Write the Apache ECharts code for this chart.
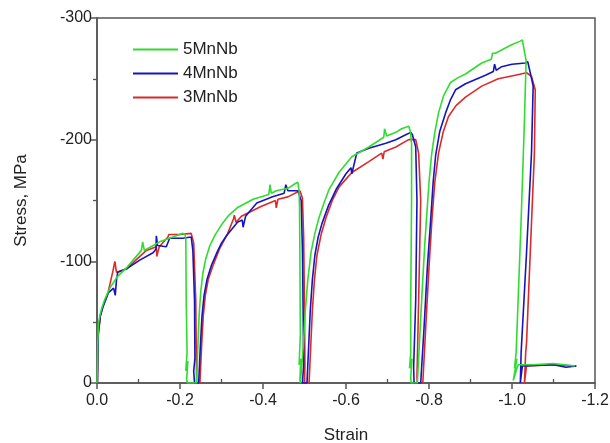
<!DOCTYPE html>
<html>
<head>
<meta charset="utf-8">
<script src="https://cdn.jsdelivr.net/npm/echarts@6/dist/echarts.min.js"></script>
<style>
  html, body { margin: 0; padding: 0; background: #fff; }
  #chart { width: 610px; height: 443px; }
</style>
</head>
<body>
<div id="chart"></div>
<script>
// strain / stress shown as positive values, axis labels add the minus sign
const seriesNames = ['5MnNb', '4MnNb', '3MnNb']
const seriesColors = ['#2fdc2f', '#1515c0', '#dc2a2a']

const strain5 = [
  0, 0.001, 0.002, 0.004, 0.008, 0.012, 0.019, 0.031, 0.048, 0.072, 0.087, 0.107, 0.11, 0.114, 0.13, 0.151, 0.183, 0.207, 0.212, 0.214, 0.215, 0.217, 0.214, 0.219, 0.216, 0.218,
  0.24, 0.243, 0.246, 0.25, 0.255, 0.262, 0.272, 0.285, 0.3, 0.318, 0.338, 0.376, 0.414, 0.417, 0.42, 0.432, 0.46, 0.478, 0.484, 0.487, 0.488, 0.489, 0.49, 0.487, 0.491, 0.489, 0.49,
  0.492, 0.497, 0.502, 0.508, 0.516, 0.525, 0.535, 0.547, 0.559, 0.583, 0.614, 0.655, 0.691, 0.693, 0.698, 0.72, 0.734, 0.751, 0.755, 0.758, 0.758, 0.756, 0.756, 0.753, 0.759, 0.756, 0.757,
  0.772, 0.778, 0.785, 0.79, 0.795, 0.8, 0.806, 0.814, 0.823, 0.835, 0.852, 0.87, 0.888, 0.927, 0.95, 0.953, 0.96, 0.999, 1.02, 1.025, 1.028, 1.034, 1.03, 1.022, 1.01, 1.006, 1.012, 1.003, 1.01, 1.015, 1.05, 1.1, 1.152
]
const stress5 = [
  0, 15, 35, 50, 57, 62, 69, 78, 87, 95, 101, 109, 116, 109, 112, 116, 120, 123, 122, 118, 68, 25, 10, 18, 3, 0,
  0, 30, 55, 75, 90, 102, 113, 122, 130, 138, 144, 151, 155, 163, 156, 158, 160, 164, 165, 158, 145, 100, 40, 15, 20, 3, 0,
  0, 30, 60, 85, 108, 123, 136, 148, 159, 173, 186, 194, 202, 209, 203, 206, 209, 211, 207, 197, 150, 68, 25, 12, 20, 5, 0,
  0, 40, 85, 115, 140, 165, 187, 206, 222, 236, 247, 251, 254, 263, 266, 271, 271, 278, 281, 282, 276, 265, 216, 134, 25, 12, 20, 2, 10, 15, 15, 16, 14
]

const strain4 = [
  0.001, 0.003, 0.008, 0.014, 0.027, 0.04, 0.044, 0.047, 0.05, 0.072, 0.103, 0.135, 0.142, 0.143, 0.146, 0.167, 0.175, 0.207, 0.227, 0.231, 0.235, 0.236, 0.233, 0.235,
  0.245, 0.249, 0.253, 0.258, 0.265, 0.276, 0.29, 0.3, 0.312, 0.338, 0.35, 0.352, 0.358, 0.385, 0.423, 0.451, 0.455, 0.46, 0.479, 0.484, 0.492, 0.495, 0.497, 0.498, 0.495,
  0.506, 0.51, 0.514, 0.519, 0.525, 0.533, 0.542, 0.558, 0.576, 0.6, 0.612, 0.614, 0.626, 0.655, 0.696, 0.72, 0.744, 0.756, 0.76, 0.768, 0.771, 0.768, 0.763, 0.764,
  0.78, 0.788, 0.796, 0.804, 0.81, 0.816, 0.826, 0.84, 0.852, 0.864, 0.888, 0.936, 0.955, 0.958, 0.962, 0.975, 1.0, 1.032, 1.038, 1.044, 1.051, 1.047, 1.035, 1.022, 1.02, 1.025, 1.1, 1.13, 1.155
]
const stress4 = [
  0, 40, 55, 62, 74, 78, 72, 85, 91, 94, 101, 107, 110, 121, 113, 112, 119, 119, 120, 109, 68, 20, 10, 0,
  0, 30, 55, 72, 85, 97, 108, 115, 121, 132, 134, 128, 137, 148, 153, 156, 163, 158, 158, 158, 150, 110, 50, 15, 0,
  0, 30, 60, 85, 105, 120, 131, 146, 159, 172, 177, 172, 189, 193, 197, 200, 204, 206, 204, 194, 150, 68, 13, 0,
  0, 45, 95, 134, 165, 187, 207, 222, 233, 241, 246, 253, 256, 262, 257, 260, 262, 263, 264, 255, 244, 189, 107, 25, 0, 14, 15, 13, 14
]

const strain3 = [
  0.001, 0.003, 0.008, 0.015, 0.025, 0.039, 0.043, 0.047, 0.072, 0.1, 0.119, 0.143, 0.144, 0.15, 0.171, 0.173, 0.199, 0.227, 0.233, 0.238, 0.24, 0.241,
  0.248, 0.252, 0.256, 0.261, 0.268, 0.28, 0.295, 0.315, 0.329, 0.331, 0.335, 0.348, 0.395, 0.43, 0.432, 0.436, 0.46, 0.489, 0.495, 0.498, 0.5, 0.501, 0.5,
  0.511, 0.515, 0.519, 0.524, 0.53, 0.54, 0.552, 0.567, 0.583, 0.614, 0.655, 0.686, 0.689, 0.692, 0.72, 0.751, 0.768, 0.775, 0.78, 0.775, 0.771, 0.772,
  0.785, 0.792, 0.8, 0.807, 0.814, 0.823, 0.834, 0.847, 0.865, 0.888, 0.927, 0.967, 1.008, 1.035, 1.047, 1.056, 1.054, 1.044, 1.035, 1.033, 1.03, 1.035, 1.1, 1.155
]
const stress3 = [
  0, 40, 55, 64, 72, 93, 100, 91, 94, 103, 109, 112, 104, 112, 120, 122, 122, 123, 115, 68, 2, 0,
  0, 30, 55, 72, 85, 97, 110, 123, 135, 138, 132, 137, 145, 150, 144, 151, 153, 158, 152, 120, 60, 15, 0,
  0, 30, 60, 85, 105, 122, 136, 150, 161, 173, 182, 189, 184, 190, 194, 200, 200, 189, 150, 68, 5, 0,
  0, 45, 95, 134, 165, 189, 206, 219, 228, 235, 244, 250, 253, 255, 252, 241, 189, 107, 33, 25, 0, 14, 15, 14
]

const xTicks = [0, 0.2, 0.4, 0.6, 0.8, 1.0, 1.2]
const yTicks = [0, 100, 200, 300]

const zip = (xs, ys) => xs.map((x, i) => [x, ys[i]])
const seriesData = [zip(strain5, stress5), zip(strain4, stress4), zip(strain3, stress3)]

const chart = echarts.init(document.getElementById('chart'), null, { renderer: 'canvas' })

const font = 'Liberation Sans, Arial, sans-serif'
const axisColor = '#555'

const option = {
  animation: false,
  backgroundColor: '#fff',
  grid: {
    left: 97,
    right: 15,
    top: 18,
    bottom: 60,
    outerBoundsMode: 'none',
    show: true,
    borderColor: axisColor,
    borderWidth: 1.5
  },
  legend: {
    orient: 'vertical',
    left: 128,
    top: 36,
    icon: 'rect',
    itemWidth: 45,
    itemHeight: 2,
    itemGap: 7,
    data: seriesNames,
    textStyle: { fontFamily: font, fontSize: 17, color: '#222' }
  },
  xAxis: [
    {
      type: 'value',
      min: xTicks[0],
      max: xTicks[xTicks.length - 1],
      interval: 0.2,
      name: 'Strain',
      nameLocation: 'middle',
      nameGap: 44,
      nameTextStyle: { fontFamily: font, fontSize: 17, color: '#222' },
      axisLine: { show: true, lineStyle: { color: axisColor, width: 1.5 } },
      axisTick: { show: true, length: 6, lineStyle: { color: axisColor, width: 1.5 } },
      splitLine: { show: false },
      axisLabel: {
        fontFamily: font,
        fontSize: 16,
        color: '#222',
        margin: 10,
        formatter: v => (v === 0 ? '0.0' : '-' + v.toFixed(1))
      }
    },
    {
      // inner minor ticks only
      type: 'value',
      position: 'bottom',
      min: xTicks[0],
      max: xTicks[xTicks.length - 1],
      interval: 0.2,
      axisLine: { show: false },
      axisTick: { show: false, inside: true },
      minorTick: { show: true, splitNumber: 2, length: 4, lineStyle: { color: axisColor, width: 1.3 } },
      axisLabel: { show: false },
      splitLine: { show: false }
    }
  ],
  yAxis: {
    type: 'value',
    min: yTicks[0],
    max: yTicks[yTicks.length - 1],
    interval: 100,
    name: 'Stress, MPa',
    nameLocation: 'middle',
    nameGap: 67,
    nameTextStyle: { fontFamily: font, fontSize: 17, color: '#222' },
    axisLine: { show: true, lineStyle: { color: axisColor, width: 1.5 } },
    axisTick: { show: true, length: 7, lineStyle: { color: axisColor, width: 1.5 } },
    minorTick: { show: true, splitNumber: 2, length: 4, lineStyle: { color: axisColor, width: 1.3 } },
    splitLine: { show: false },
    axisLabel: {
      fontFamily: font,
      fontSize: 16,
      color: '#222',
      margin: 5,
      formatter: v => (v === 0 ? '0' : '-' + v)
    }
  },
  series: seriesNames.map((name, i) => ({
    name: name,
    type: 'line',
    data: seriesData[i],
    symbol: 'none',
    z: 10 - i,
    lineStyle: { color: seriesColors[i], width: 1.6 },
    itemStyle: { color: seriesColors[i] }
  }))
}

chart.setOption(option)
</script>
</body>
</html>
